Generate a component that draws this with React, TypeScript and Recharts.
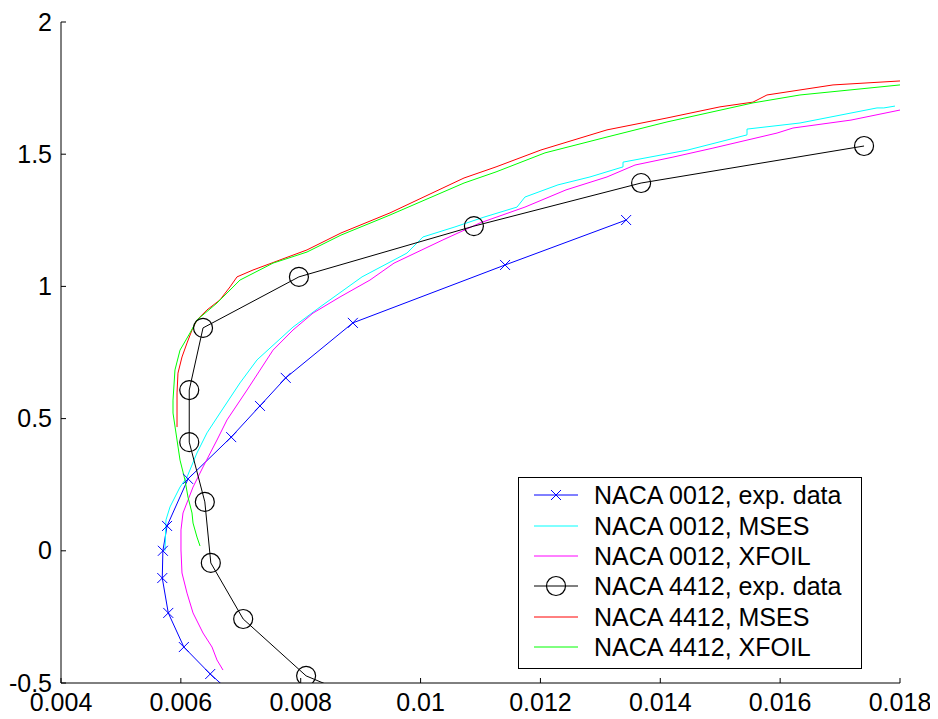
import React from "react";
import { LineChart, Line, XAxis, YAxis, Legend } from "recharts";

const FONT = '"Liberation Sans", Arial, Helvetica, sans-serif';

const xTicks = [0.004, 0.006, 0.008, 0.01, 0.012, 0.014, 0.016, 0.018];
const yTicks = [-0.5, 0, 0.5, 1, 1.5, 2];

// [cd, cl] pairs
const naca0012Exp: [number, number][] = [
  [0.01343, 1.251], [0.01141, 1.081], [0.00887, 0.862], [0.00775, 0.654],
  [0.00732, 0.548], [0.00684, 0.43], [0.00612, 0.272], [0.00577, 0.094],
  [0.0057, 0.0], [0.00569, -0.103], [0.00579, -0.235], [0.00605, -0.364],
  [0.00649, -0.466], [0.0070, -0.57],
];

const naca0012Mses: [number, number][] = [
  [0.005735, 0.0], [0.005752, 0.117], [0.005819, 0.166], [0.005986, 0.241],
  [0.006103, 0.279], [0.006269, 0.37], [0.006436, 0.446], [0.006653, 0.521],
  [0.006987, 0.635], [0.007271, 0.722], [0.007871, 0.846], [0.008322, 0.922],
  [0.009023, 1.036], [0.009773, 1.126], [0.01004, 1.187], [0.010574, 1.225],
  [0.011058, 1.262], [0.011609, 1.3], [0.011742, 1.338], [0.012293, 1.384],
  [0.012827, 1.414], [0.013378, 1.452], [0.013378, 1.47], [0.014462, 1.516],
  [0.015447, 1.573], [0.015447, 1.595], [0.016331, 1.618], [0.017616, 1.675],
  [0.01773, 1.675], [0.017916, 1.682],
];

const naca0012Xfoil: [number, number][] = [
  [0.006703, -0.451], [0.006603, -0.413], [0.00652, -0.364], [0.00637, -0.311],
  [0.006203, -0.235], [0.006103, -0.16], [0.006019, -0.084], [0.006002, 0.003],
  [0.006002, 0.079], [0.006036, 0.143], [0.006203, 0.241], [0.00637, 0.317],
  [0.006603, 0.419], [0.00677, 0.495], [0.007104, 0.608], [0.007538, 0.759],
  [0.007871, 0.835], [0.008205, 0.899], [0.008655, 0.96], [0.009156, 1.024],
  [0.009557, 1.088], [0.010374, 1.176], [0.010992, 1.24], [0.011742, 1.3],
  [0.012427, 1.365], [0.013111, 1.414], [0.013578, 1.459], [0.014212, 1.489],
  [0.014879, 1.523], [0.015948, 1.58], [0.016214, 1.599], [0.017182, 1.629],
  [0.018, 1.667],
];

const naca4412Exp: [number, number][] = [
  [0.0089, -0.55], [0.00809, -0.473], [0.00704, -0.258], [0.0065, -0.046],
  [0.0064, 0.185], [0.00614, 0.411], [0.00614, 0.608], [0.00637, 0.843],
  [0.00797, 1.036], [0.01089, 1.228], [0.01368, 1.391], [0.0174, 1.531],
];

const naca4412Mses: [number, number][] = [
  [0.005936, 0.468], [0.005936, 0.597], [0.005952, 0.672], [0.006019, 0.733],
  [0.006103, 0.786], [0.006186, 0.835], [0.006269, 0.873], [0.006436, 0.911],
  [0.006653, 0.949], [0.00682, 0.998], [0.006937, 1.036], [0.007204, 1.062],
  [0.007654, 1.1], [0.008105, 1.138], [0.008672, 1.202], [0.00949, 1.278],
  [0.010725, 1.41], [0.011259, 1.452], [0.012009, 1.516], [0.013111, 1.592],
  [0.014112, 1.637], [0.014996, 1.679], [0.015547, 1.697], [0.01578, 1.724],
  [0.016882, 1.762], [0.018, 1.777],
];

const naca4412Xfoil: [number, number][] = [
  [0.00632, 0.018], [0.006269, 0.052], [0.006203, 0.105], [0.006186, 0.143],
  [0.006119, 0.203], [0.006069, 0.268], [0.005986, 0.343], [0.005936, 0.419],
  [0.005869, 0.521], [0.005869, 0.57], [0.005902, 0.684], [0.005986, 0.759],
  [0.006153, 0.824], [0.006269, 0.873], [0.006603, 0.937], [0.006987, 1.024],
  [0.007538, 1.088], [0.008105, 1.13], [0.008672, 1.194], [0.00949, 1.27],
  [0.010725, 1.391], [0.011259, 1.433], [0.012076, 1.505], [0.013111, 1.565],
  [0.014112, 1.622], [0.015547, 1.694], [0.016331, 1.724], [0.018, 1.762],
];

type Marker = "cross" | "circle" | null;

const series: { name: string; color: string; marker: Marker; points: [number, number][] }[] = [
  { name: "NACA 0012, exp. data", color: "#0000ff", marker: "cross", points: naca0012Exp },
  { name: "NACA 0012, MSES", color: "#00ffff", marker: null, points: naca0012Mses },
  { name: "NACA 0012, XFOIL", color: "#ff00ff", marker: null, points: naca0012Xfoil },
  { name: "NACA 4412, exp. data", color: "#000000", marker: "circle", points: naca4412Exp },
  { name: "NACA 4412, MSES", color: "#ff0000", marker: null, points: naca4412Mses },
  { name: "NACA 4412, XFOIL", color: "#00ff00", marker: null, points: naca4412Xfoil },
];

function markerShape(marker: Marker, cx: number, cy: number, color: string, key?: string) {
  if (marker === "cross") {
    const s = 5;
    return (
      <path
        key={key}
        d={`M${cx - s},${cy - s}L${cx + s},${cy + s}M${cx - s},${cy + s}L${cx + s},${cy - s}`}
        stroke={color}
        strokeWidth={1}
        fill="none"
      />
    );
  }
  if (marker === "circle") {
    return <circle key={key} cx={cx} cy={cy} r={9.5} stroke={color} strokeWidth={1.2} fill="none" />;
  }
  return null;
}

// ticks point inwards, labels sit outside the axis lines
const XTick = (props: any) => {
  const { x, y, payload } = props;
  return (
    <g>
      <line x1={x} y1={y} x2={x} y2={y - 5} stroke="#000" strokeWidth={1} />
      <text x={x} y={y + 28} textAnchor="middle" fontSize={25} fontFamily={FONT} fill="#000">
        {String(payload.value)}
      </text>
    </g>
  );
};

const YTick = (props: any) => {
  const { x, y, payload } = props;
  return (
    <g>
      <line x1={x} y1={y} x2={x + 5} y2={y} stroke="#000" strokeWidth={1} />
      <text x={x - 9} y={y + 8.5} textAnchor="end" fontSize={25} fontFamily={FONT} fill="#000">
        {String(payload.value)}
      </text>
    </g>
  );
};

const LegendBox = () => (
  <div
    style={{
      width: 344,
      height: 192,
      boxSizing: "border-box",
      border: "1px solid #000",
      background: "#fff",
      paddingTop: 2,
      fontFamily: FONT,
      fontSize: 25,
      color: "#000",
    }}
  >
    {series.map((s) => (
      <div key={s.name} style={{ display: "flex", alignItems: "center", height: 30.4 }}>
        <svg width={75} height={30} style={{ flex: "none" }}>
          <line x1={15} y1={15} x2={59} y2={15} stroke={s.color} strokeWidth={1} />
          {markerShape(s.marker, 37, 15, s.color)}
        </svg>
        <span style={{ whiteSpace: "nowrap", lineHeight: "30px" }}>{s.name}</span>
      </div>
    ))}
  </div>
);

export default function App() {
  return (
    <LineChart width={930} height={711} margin={{ top: 14, right: 38, bottom: 0, left: 0 }}>
      <XAxis
        dataKey="cd"
        type="number"
        domain={[0.004, 0.018]}
        ticks={xTicks}
        interval={0}
        allowDataOverflow
        height={36}
        tickSize={0}
        tickMargin={0}
        tickLine={false}
        tick={<XTick />}
        axisLine={{ stroke: "#000", strokeWidth: 1 }}
      />
      <YAxis
        dataKey="cl"
        type="number"
        domain={[-0.5, 2]}
        ticks={yTicks}
        interval={0}
        allowDataOverflow
        width={53}
        tickSize={0}
        tickMargin={0}
        tickLine={false}
        tick={<YTick />}
        axisLine={{ stroke: "#000", strokeWidth: 1 }}
      />
      {series.map((s) => (
        <Line
          key={s.name}
          name={s.name}
          data={s.points.map(([cd, cl]) => ({ cd, cl }))}
          dataKey="cl"
          type="linear"
          stroke={s.color}
          strokeWidth={1}
          dot={
            s.marker
              ? (p: any) => markerShape(s.marker, p.cx, p.cy, s.color, `dot-${p.index}`)
              : false
          }
          activeDot={false}
          legendType="line"
          isAnimationActive={false}
        />
      ))}
      <Legend
        layout="vertical"
        align="center"
        verticalAlign="middle"
        width={344}
        height={192}
        content={<LegendBox />}
        wrapperStyle={{ left: 510, top: 469, width: 344, height: 192 }}
      />
    </LineChart>
  );
}
